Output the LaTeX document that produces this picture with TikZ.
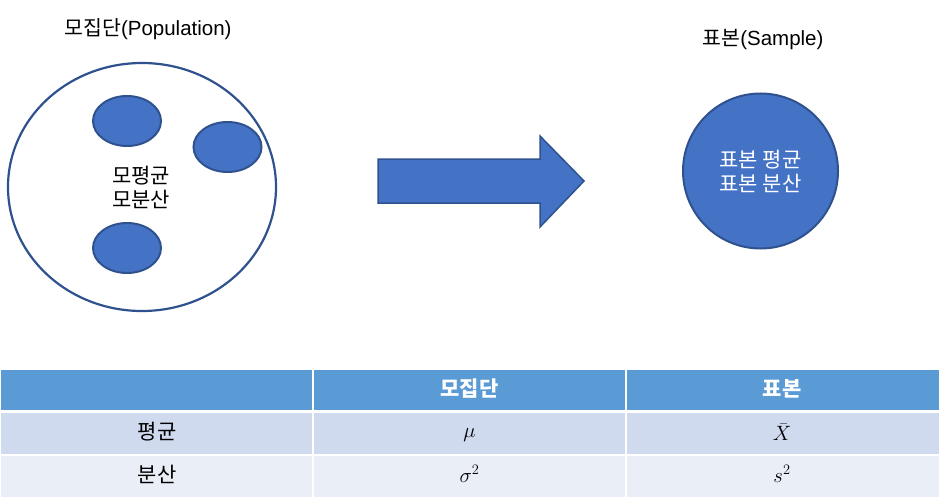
\documentclass[tikz,border=0pt]{standalone}
\usepackage{fontspec}
\setmainfont{Liberation Sans}
\newfontfamily\kr{Noto Sans CJK KR}
\usetikzlibrary{shapes.geometric}
\definecolor{accent}{HTML}{4472C4}
\definecolor{edge}{HTML}{2F528F}
\definecolor{hdr}{HTML}{5B9BD5}
\definecolor{rowa}{HTML}{CFDAEE}
\definecolor{rowb}{HTML}{E9EEF7}
\tikzset{
  blob/.style={ellipse, draw=edge, line width=2pt, fill=accent, minimum width=68pt, minimum height=50pt, inner sep=0pt},
  title/.style={font=\fontsize{20.5}{24}\selectfont, text=black},
  inner/.style={font=\kr\fontsize{21}{24}\selectfont, align=center},
  cell/.style={font=\kr\fontsize{21}{24}\selectfont, text=black},
  hcell/.style={font=\kr\bfseries\fontsize{21}{24}\selectfont, text=white},
  mcell/.style={font=\fontsize{22}{24}\selectfont, text=black, inner sep=1pt},
}
\begin{document}
\begin{tikzpicture}[x=1pt,y=-1pt]
\useasboundingbox (0,0) rectangle (941,500);
% population
\node[title] (ptitle) at (148,29) {{\kr 모집단}(Population)};
\node[ellipse, draw=edge, line width=2.2pt, fill=white, minimum width=268pt, minimum height=248pt, inner sep=0pt] (pop) at (142,187) {};
\node[blob] (b1) at (127,121) {};
\node[blob] (b2) at (227.5,147) {};
\node[blob] (b3) at (127,248) {};
\node[inner] (ptext) at (141,187) {모평균\\모분산};
% arrow
\draw[draw=edge, line width=1.5pt, fill=accent, line join=miter]
  (378,159) -- (540,159) -- (540,136) -- (584,181) -- (540,227) -- (540,203) -- (378,203) -- cycle;
% sample
\node[title] (stitle) at (763,40) {{\kr 표본}(Sample)};
\node[circle, draw=edge, line width=2pt, fill=accent, minimum size=155pt, inner sep=0pt] (samp) at (760.5,171) {};
\node[inner, text=white] (stext) at (760.5,171) {표본 평균\\표본 분산};
% table
\fill[hdr] (1,370) rectangle (939,410);
\fill[rowa] (1,413) rectangle (939,454);
\fill[rowb] (1,456) rectangle (939,497);
\draw[white, line width=2pt] (313,370) -- (313,497);
\draw[white, line width=2pt] (626,370) -- (626,497);
\node[hcell] (h2) at (469.5,389) {모집단};
\node[hcell] (h3) at (782,389) {표본};
\node[cell] (r1) at (157,432) {평균};
\node[mcell] (r1b) at (469.5,435) {$\mu$};
\node[mcell] (r1c) at (782,432) {$\bar{X}$};
\node[cell] (r2) at (157,474) {분산};
\node[mcell] (r2b) at (469.5,474) {$\sigma^2$};
\node[mcell] (r2c) at (782,474) {$s^2$};
\end{tikzpicture}
\end{document}
